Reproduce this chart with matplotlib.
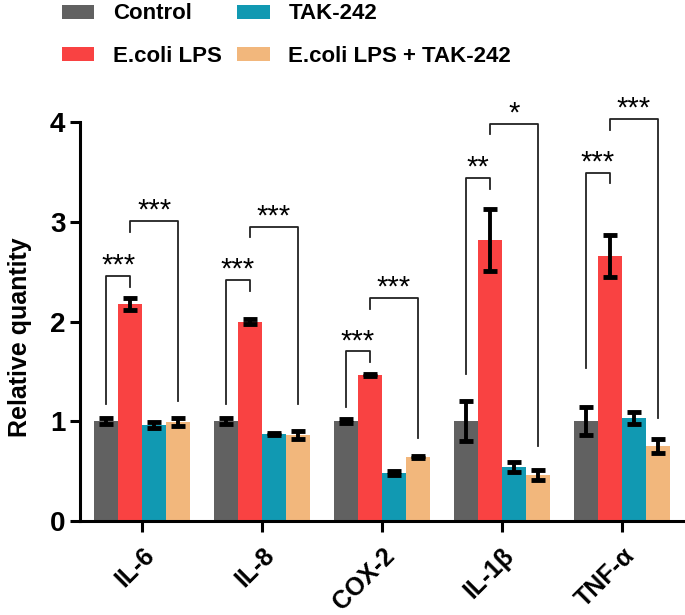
import matplotlib.pyplot as plt
import numpy as np

plt.rcParams['font.family'] = ['Liberation Sans', 'DejaVu Sans']

genes = ["IL-6", "IL-8", "COX-2", "IL-1β", "TNF-α"]
groups = ["Control", "E.coli LPS", "TAK-242", "E.coli LPS + TAK-242"]
colors = ["#616161", "#F94242", "#1199B2", "#F2B77C"]

control = [1.00, 1.00, 1.00, 1.00, 1.00]
control_err = [0.03, 0.03, 0.02, 0.20, 0.14]
lps = [2.18, 2.00, 1.46, 2.82, 2.66]
lps_err = [0.06, 0.03, 0.01, 0.31, 0.21]
tak = [0.96, 0.87, 0.48, 0.54, 1.03]
tak_err = [0.03, 0.01, 0.02, 0.05, 0.06]
combo = [0.99, 0.86, 0.64, 0.46, 0.75]
combo_err = [0.04, 0.04, 0.01, 0.05, 0.07]

# significance brackets: (left leg bottom, top, short leg bottom, label)
left_sig = [(1.17, 2.46, 2.35, "***"), (1.17, 2.42, 2.31, "***"), (1.14, 1.70, 1.59, "***"),
            (1.47, 3.44, 3.33, "**"), (1.53, 3.49, 3.39, "***")]
right_sig = [(2.90, 3.01, 1.20, "***"), (2.85, 2.95, 1.17, "***"), (2.13, 2.24, 0.83, "***"),
             (3.88, 3.98, 0.75, "*"), (3.92, 4.03, 1.03, "***")]

values = [control, lps, tak, combo]
errors = [control_err, lps_err, tak_err, combo_err]

fig = plt.figure(figsize=(6.85, 6.15), dpi=100)
ax = fig.add_axes([80 / 685, 1 - 521 / 615, 605 / 685, 399 / 615])

x = np.arange(len(genes))
w = 0.2
for i in range(4):
    pos = x + (i - 1.5) * w
    ax.bar(pos, values[i], w, color=colors[i], label=groups[i], zorder=2)
    ax.errorbar(pos, values[i], yerr=errors[i], fmt="none", ecolor="black",
                elinewidth=2.8, capsize=5, capthick=3.5, zorder=3)

for j in range(len(genes)):
    xc = x[j] - 1.5 * w
    xl = x[j] - 0.5 * w
    xo = x[j] + 1.5 * w
    b, t, s, lab = left_sig[j]
    ax.plot([xc, xc, xl, xl], [b, t, t, s], color="#222222", lw=1.3, clip_on=False)
    ax.text((xc + xl) / 2, t + 0.1, lab, ha="center", va="center", fontsize=21, clip_on=False)
    s2, t2, b2, lab2 = right_sig[j]
    ax.plot([xl, xl, xo, xo], [s2, t2, t2, b2], color="#222222", lw=1.3, clip_on=False)
    ax.text((xl + xo) / 2, t2 + 0.1, lab2, ha="center", va="center", fontsize=21, clip_on=False)

ax.set_xlim(-0.517, 4.525)
ax.set_ylim(0, 4)
ax.set_yticks([0, 1, 2, 3, 4])
ax.set_xticks(x)
ax.set_xticklabels(genes, rotation=45, ha="right", va="top", rotation_mode="anchor",
                   fontsize=18, fontweight="bold")
for lbl in ax.get_yticklabels():
    lbl.set_fontsize(20)
    lbl.set_fontweight("bold")
ax.set_ylabel("Relative quantity", fontsize=18, fontweight="bold")
ax.yaxis.set_label_coords(-0.08, 0.46)

for side in ["top", "right"]:
    ax.spines[side].set_visible(False)
for side in ["left", "bottom"]:
    ax.spines[side].set_linewidth(2.2)
ax.tick_params(axis="both", width=2.2, length=7)
ax.tick_params(axis="x", length=8, pad=8)

fig.legend(loc="upper left", bbox_to_anchor=(0.061, 1.027), ncol=2, frameon=False,
           prop={"weight": "bold", "size": 16}, handlelength=1.45, handleheight=0.6,
           columnspacing=0.7, labelspacing=0.95, handletextpad=0.85)

plt.savefig("out.png", dpi=100)
